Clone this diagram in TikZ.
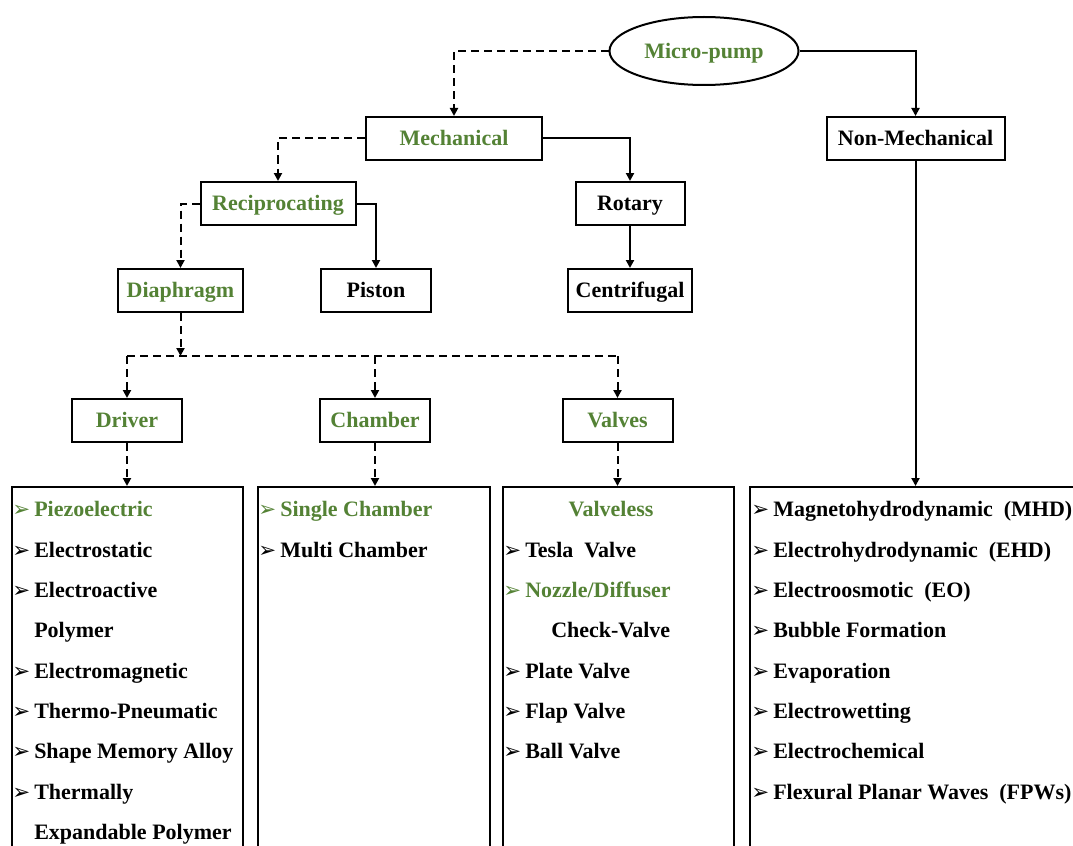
\documentclass[tikz,border=0pt]{standalone}
\usepackage{fontspec}
\setmainfont{Liberation Serif}
\newfontfamily\symfont{DejaVu Sans}
\usetikzlibrary{arrows.meta,shapes.geometric}
\definecolor{pgreen}{RGB}{84,130,53}
\newcommand{\myarrow}{\makebox[16.5pt][l]{\symfont\fontsize{16}{16}\selectfont ➢}}
\tikzset{
  x=0.75pt, y=-0.75pt,
  lab/.style={font=\fontsize{16.5}{18}\selectfont\bfseries},
  box/.style={lab, draw, line width=1.5pt, inner sep=0pt, minimum height=32.25pt, text height=11pt, text depth=0pt},
  pill/.style={lab, draw, ellipse, line width=1.5pt, inner sep=0pt, minimum width=141.75pt, minimum height=51pt, text height=11pt, text depth=0pt},
  listbox/.style={draw, line width=1.5pt, anchor=north west, inner sep=0pt, minimum height=300pt},
  item/.style={lab, anchor=base west, inner sep=0pt},
  grn/.style={text=pgreen},
  conn/.style={line width=1.5pt, -{Triangle[length=6pt,width=6pt]}},
  dconn/.style={conn, dash pattern=on 6pt off 3.75pt},
  dline/.style={line width=1.5pt, dash pattern=on 6pt off 3.75pt},
}
\begin{document}
\begin{tikzpicture}
\useasboundingbox (0,0) rectangle (1073,845);
\clip (0,0) rectangle (1073,845);
% top level
\node[pill, grn] (mp) at (704,51) {Micro-pump};
\node[box, grn, minimum width=132pt] (mech) at (454,138.5) {Mechanical};
\node[box, minimum width=133.5pt] (nonmech) at (915.5,138.5) {Non-Mechanical};
\node[box, grn, minimum width=116.25pt] (recip) at (278,203.5) {Reciprocating};
\node[box, minimum width=81.75pt] (rotary) at (630,203.5) {Rotary};
\node[box, grn, minimum width=93.75pt] (diaph) at (180.5,290.5) {Diaphragm};
\node[box, minimum width=82.5pt] (piston) at (376,290.5) {Piston};
\node[box, minimum width=93pt] (centri) at (630,290.5) {Centrifugal};
\node[box, grn, minimum width=82.5pt] (driver) at (127,420.5) {Driver};
\node[box, grn, minimum width=82.5pt] (chamber) at (375,420.5) {Chamber};
\node[box, grn, minimum width=82.5pt] (valves) at (617.5,420.5) {Valves};
% list boxes
\node[listbox, minimum width=173.25pt] (l1) at (11,486) {};
\node[listbox, minimum width=174pt] (l2) at (257,486) {};
\node[listbox, minimum width=173.25pt] (l3) at (502,486) {};
\node[listbox, minimum width=255pt] (l4) at (749,486) {};
% connectors
\draw[dconn] (mp.west) -| (mech.north);
\draw[conn] (mp.east) -| (nonmech.north);
\draw[dconn] (mech.west) -| (recip.north);
\draw[conn] (mech.east) -| (rotary.north);
\draw[dconn] (recip.west) -| (diaph.north);
\draw[conn] (recip.east) -| (piston.north);
\draw[conn] (rotary.south) -- (centri.north);
\coordinate (hub) at (180.5,356);
\coordinate (hl) at (127,356);
\coordinate (hr) at (617.5,356);
\coordinate (hm) at (375,356);
\draw[dconn] (diaph.south) -- (hub);
\draw[dline] (hl) -- (hr);
\draw[dconn] (hl) -- (driver.north);
\draw[dconn] (hm) -- (chamber.north);
\draw[dconn] (hr) -- (valves.north);
\draw[dconn] (driver.south) -- (driver.south |- l1.north);
\draw[dconn] (chamber.south) -- (chamber.south |- l2.north);
\draw[dconn] (valves.south) -- (valves.south |- l3.north);
\draw[conn] (nonmech.south) -- (nonmech.south |- l4.north);
% list 1
\node[item, grn] (a1) at (12,516) {\myarrow Piezoelectric};
\node[item] (a2) at (12,557) {\myarrow Electrostatic};
\node[item] (a3) at (12,597) {\myarrow Electroactive};
\node[item] (a4) at (34,637) {Polymer};
\node[item] (a5) at (12,678) {\myarrow Electromagnetic};
\node[item] (a6) at (12,718) {\myarrow Thermo-Pneumatic};
\node[item] (a7) at (12,758) {\myarrow Shape Memory Alloy};
\node[item] (a8) at (12,799) {\myarrow Thermally};
\node[item] (a9) at (34,839) {Expandable Polymer};
% list 2
\node[item, grn] (b1) at (258,516) {\myarrow Single Chamber};
\node[item] (b2) at (258,557) {\myarrow Multi Chamber};
% list 3
\node[item, grn, anchor=base] (c0) at (611,516) {Valveless};
\node[item] (c1) at (503,557) {\myarrow Tesla\ \ Valve};
\node[item, grn] (c2) at (503,597) {\myarrow Nozzle/Diffuser};
\node[item] (c3) at (551,637) {Check-Valve};
\node[item] (c4) at (503,678) {\myarrow Plate Valve};
\node[item] (c5) at (503,718) {\myarrow Flap Valve};
\node[item] (c6) at (503,758) {\myarrow Ball Valve};
% list 4
\node[item] (d1) at (751,516) {\myarrow Magnetohydrodynamic\ \ (MHD)};
\node[item] (d2) at (751,557) {\myarrow Electrohydrodynamic\ \ (EHD)};
\node[item] (d3) at (751,597) {\myarrow Electroosmotic\ \ (EO)};
\node[item] (d4) at (751,637) {\myarrow Bubble Formation};
\node[item] (d5) at (751,678) {\myarrow Evaporation};
\node[item] (d6) at (751,718) {\myarrow Electrowetting};
\node[item] (d7) at (751,758) {\myarrow Electrochemical};
\node[item] (d8) at (751,799) {\myarrow Flexural\ Planar\ Waves\ \ (FPWs)};
\end{tikzpicture}
\end{document}
